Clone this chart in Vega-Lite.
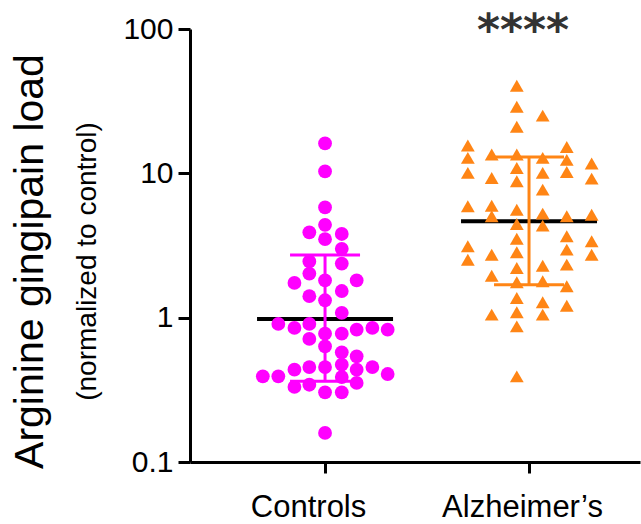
{
  "$schema": "https://vega.github.io/schema/vega-lite/v6.json",
  "autosize": "none",
  "padding": {"left": 190, "top": 29, "right": 1, "bottom": 62},
  "width": 450,
  "height": 433,
  "background": "white",
  "config": {
    "view": {"stroke": null},
    "font": "Liberation Sans",
    "axis": {"grid": false, "domainColor": "black", "tickColor": "black", "labelColor": "black", "domainWidth": 3, "tickWidth": 3, "labelFont": "Liberation Sans", "labelFontSize": 30}
  },
  "title": {
    "text": "Arginine gingipain load",
    "subtitle": "(normalized to control)",
    "orient": "left",
    "anchor": "middle",
    "fontSize": 41,
    "fontWeight": "normal",
    "subtitleFontSize": 28,
    "color": "black",
    "subtitleColor": "black",
    "font": "Liberation Sans",
    "subtitleFont": "Liberation Sans",
    "offset": 20,
    "subtitlePadding": 22,
    "dx": -16
  },
  "datasets": {
    "points": [
      {"group": "Controls", "x": 1.0, "value": 16.1},
      {"group": "Controls", "x": 1.0, "value": 10.3},
      {"group": "Controls", "x": 1.0, "value": 5.8},
      {"group": "Controls", "x": 1.0, "value": 4.4},
      {"group": "Controls", "x": 0.923, "value": 3.9},
      {"group": "Controls", "x": 1.082, "value": 3.8},
      {"group": "Controls", "x": 1.0, "value": 3.5},
      {"group": "Controls", "x": 1.082, "value": 3.0},
      {"group": "Controls", "x": 0.923, "value": 2.45},
      {"group": "Controls", "x": 1.082, "value": 2.37},
      {"group": "Controls", "x": 0.923, "value": 2.02},
      {"group": "Controls", "x": 0.85, "value": 1.74},
      {"group": "Controls", "x": 1.0, "value": 1.81},
      {"group": "Controls", "x": 1.155, "value": 1.81},
      {"group": "Controls", "x": 0.923, "value": 1.41},
      {"group": "Controls", "x": 1.082, "value": 1.53},
      {"group": "Controls", "x": 1.0, "value": 1.32},
      {"group": "Controls", "x": 1.082, "value": 1.08},
      {"group": "Controls", "x": 0.771, "value": 0.905},
      {"group": "Controls", "x": 0.85, "value": 0.849},
      {"group": "Controls", "x": 0.923, "value": 0.905},
      {"group": "Controls", "x": 1.0, "value": 0.775},
      {"group": "Controls", "x": 1.082, "value": 0.775},
      {"group": "Controls", "x": 1.155, "value": 0.826},
      {"group": "Controls", "x": 1.232, "value": 0.849},
      {"group": "Controls", "x": 1.307, "value": 0.826},
      {"group": "Controls", "x": 0.923, "value": 0.712},
      {"group": "Controls", "x": 1.0, "value": 0.632},
      {"group": "Controls", "x": 1.082, "value": 0.575},
      {"group": "Controls", "x": 1.155, "value": 0.54},
      {"group": "Controls", "x": 0.923, "value": 0.455},
      {"group": "Controls", "x": 1.0, "value": 0.455},
      {"group": "Controls", "x": 1.082, "value": 0.472},
      {"group": "Controls", "x": 1.155, "value": 0.436},
      {"group": "Controls", "x": 1.232, "value": 0.455},
      {"group": "Controls", "x": 0.85, "value": 0.436},
      {"group": "Controls", "x": 0.695, "value": 0.392},
      {"group": "Controls", "x": 0.771, "value": 0.392},
      {"group": "Controls", "x": 1.307, "value": 0.407},
      {"group": "Controls", "x": 1.082, "value": 0.388},
      {"group": "Controls", "x": 0.85, "value": 0.331},
      {"group": "Controls", "x": 0.923, "value": 0.343},
      {"group": "Controls", "x": 1.0, "value": 0.304},
      {"group": "Controls", "x": 1.082, "value": 0.304},
      {"group": "Controls", "x": 1.155, "value": 0.353},
      {"group": "Controls", "x": 1.0, "value": 0.159},
      {"group": "Alzheimer’s", "x": 1.94, "value": 40.5},
      {"group": "Alzheimer’s", "x": 1.94, "value": 28.9},
      {"group": "Alzheimer’s", "x": 1.94, "value": 21.0},
      {"group": "Alzheimer’s", "x": 1.94, "value": 13.5},
      {"group": "Alzheimer’s", "x": 1.94, "value": 10.9},
      {"group": "Alzheimer’s", "x": 1.94, "value": 8.81},
      {"group": "Alzheimer’s", "x": 1.94, "value": 5.6},
      {"group": "Alzheimer’s", "x": 1.94, "value": 4.46},
      {"group": "Alzheimer’s", "x": 1.94, "value": 3.52},
      {"group": "Alzheimer’s", "x": 1.94, "value": 2.84},
      {"group": "Alzheimer’s", "x": 1.94, "value": 2.21},
      {"group": "Alzheimer’s", "x": 1.94, "value": 1.76},
      {"group": "Alzheimer’s", "x": 1.94, "value": 1.37},
      {"group": "Alzheimer’s", "x": 1.94, "value": 1.09},
      {"group": "Alzheimer’s", "x": 1.94, "value": 0.87},
      {"group": "Alzheimer’s", "x": 1.94, "value": 0.392},
      {"group": "Alzheimer’s", "x": 2.067, "value": 25.1},
      {"group": "Alzheimer’s", "x": 2.067, "value": 12.8},
      {"group": "Alzheimer’s", "x": 2.067, "value": 10.07},
      {"group": "Alzheimer’s", "x": 2.067, "value": 7.71},
      {"group": "Alzheimer’s", "x": 2.067, "value": 5.26},
      {"group": "Alzheimer’s", "x": 2.067, "value": 4.34},
      {"group": "Alzheimer’s", "x": 2.067, "value": 2.29},
      {"group": "Alzheimer’s", "x": 2.067, "value": 1.79},
      {"group": "Alzheimer’s", "x": 2.067, "value": 1.28},
      {"group": "Alzheimer’s", "x": 2.067, "value": 1.05},
      {"group": "Alzheimer’s", "x": 2.185, "value": 15.2},
      {"group": "Alzheimer’s", "x": 2.185, "value": 12.4},
      {"group": "Alzheimer’s", "x": 2.185, "value": 10.2},
      {"group": "Alzheimer’s", "x": 2.185, "value": 5.04},
      {"group": "Alzheimer’s", "x": 2.185, "value": 3.66},
      {"group": "Alzheimer’s", "x": 2.185, "value": 2.96},
      {"group": "Alzheimer’s", "x": 2.185, "value": 2.33},
      {"group": "Alzheimer’s", "x": 2.185, "value": 1.65},
      {"group": "Alzheimer’s", "x": 2.185, "value": 1.21},
      {"group": "Alzheimer’s", "x": 2.307, "value": 11.7},
      {"group": "Alzheimer’s", "x": 2.307, "value": 9.19},
      {"group": "Alzheimer’s", "x": 2.307, "value": 5.17},
      {"group": "Alzheimer’s", "x": 2.307, "value": 3.38},
      {"group": "Alzheimer’s", "x": 2.307, "value": 2.73},
      {"group": "Alzheimer’s", "x": 1.817, "value": 13.5},
      {"group": "Alzheimer’s", "x": 1.817, "value": 9.29},
      {"group": "Alzheimer’s", "x": 1.817, "value": 5.97},
      {"group": "Alzheimer’s", "x": 1.817, "value": 5.04},
      {"group": "Alzheimer’s", "x": 1.817, "value": 2.73},
      {"group": "Alzheimer’s", "x": 1.817, "value": 1.95},
      {"group": "Alzheimer’s", "x": 1.817, "value": 1.05},
      {"group": "Alzheimer’s", "x": 1.7, "value": 15.6},
      {"group": "Alzheimer’s", "x": 1.7, "value": 12.8},
      {"group": "Alzheimer’s", "x": 1.7, "value": 10.07},
      {"group": "Alzheimer’s", "x": 1.7, "value": 5.91},
      {"group": "Alzheimer’s", "x": 1.7, "value": 3.12},
      {"group": "Alzheimer’s", "x": 1.7, "value": 2.52}
    ],
    "summary": [
      {"group": "Controls", "x": 1, "median": 0.98, "lo": 0.362, "hi": 2.72},
      {"group": "Alzheimer’s", "x": 2, "median": 4.65, "lo": 1.69, "hi": 13.0}
    ],
    "sig": [
      {"x": 2, "value": 100, "label": "****"}
    ]
  },
  "encoding": {
    "x": {
      "field": "x", "type": "quantitative",
      "scale": {"domain": [0.338, 2.544], "nice": false, "zero": false},
      "axis": {"values": [1, 2], "title": null, "tickSize": 11, "labelPadding": 19, "labelFontSize": 31,
               "labelOffset": {"condition": {"test": "datum.value == 1", "value": -17}, "value": -7},
               "labelExpr": "datum.value == 1 ? 'Controls' : 'Alzheimer’s'"}
    }
  },
  "layer": [
    {
      "data": {"name": "summary"},
      "mark": {"type": "tick", "orient": "horizontal", "color": "black", "opacity": 1, "size": 136, "thickness": 4},
      "encoding": {
        "y": {"field": "median", "type": "quantitative",
              "scale": {"type": "log", "domain": [0.1, 100], "nice": false},
              "axis": {"values": [0.1, 1, 10, 100], "format": "~g", "title": null, "tickSize": 12, "labelPadding": 5}}
      }
    },
    {
      "data": {"name": "summary"},
      "mark": {"type": "rule", "strokeWidth": 3, "opacity": 1},
      "encoding": {
        "y": {"field": "lo", "type": "quantitative"},
        "y2": {"field": "hi"},
        "color": {"field": "group", "type": "nominal", "scale": {"domain": ["Controls", "Alzheimer’s"], "range": ["#FF00FF", "#FF8515"]}, "legend": null}
      }
    },
    {
      "data": {"name": "summary"},
      "mark": {"type": "tick", "orient": "horizontal", "size": 70, "thickness": 3, "opacity": 1},
      "encoding": {
        "y": {"field": "lo", "type": "quantitative"},
        "color": {"field": "group", "type": "nominal", "legend": null}
      }
    },
    {
      "data": {"name": "summary"},
      "mark": {"type": "tick", "orient": "horizontal", "size": 70, "thickness": 3, "opacity": 1},
      "encoding": {
        "y": {"field": "hi", "type": "quantitative"},
        "color": {"field": "group", "type": "nominal", "legend": null}
      }
    },
    {
      "data": {"name": "points"},
      "mark": {"type": "point", "filled": true, "opacity": 1, "size": 190},
      "encoding": {
        "y": {"field": "value", "type": "quantitative"},
        "color": {"field": "group", "type": "nominal", "legend": null},
        "shape": {"field": "group", "type": "nominal", "scale": {"domain": ["Controls", "Alzheimer’s"], "range": ["circle", "triangle-up"]}, "legend": null}
      }
    },
    {
      "data": {"name": "sig"},
      "mark": {"type": "text", "font": "DejaVu Sans", "fontSize": 44, "fontWeight": "bold", "color": "#333333", "baseline": "middle", "dy": 3, "dx": -6, "clip": false},
      "encoding": {
        "y": {"field": "value", "type": "quantitative"},
        "text": {"field": "label"}
      }
    }
  ]
}
